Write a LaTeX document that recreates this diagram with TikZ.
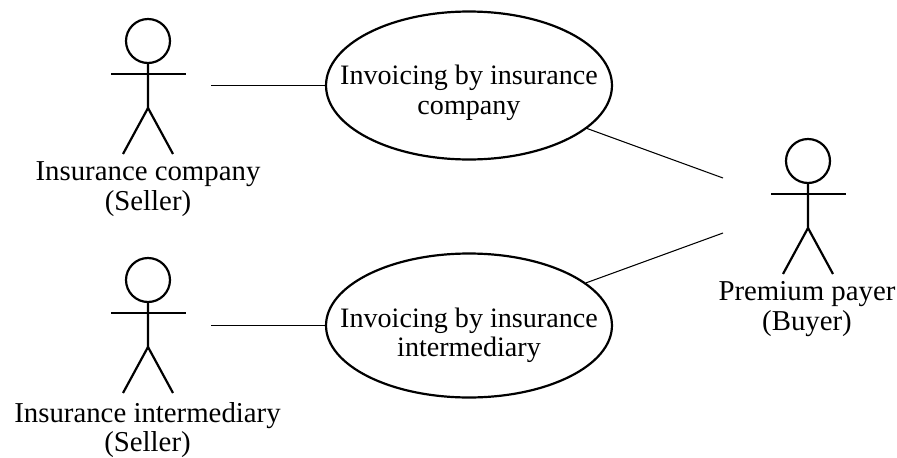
\documentclass[tikz,border=0pt]{standalone}
\usepackage{fontspec}
\setmainfont{Liberation Serif}
\usetikzlibrary{positioning,shapes.geometric}
\tikzset{
  usecase/.style={ellipse, draw=black, line width=1.25pt, minimum width=5.72cm, align=center, inner xsep=-0.6cm, inner ysep=0pt, font=\fontsize{16pt}{17pt}\selectfont},
  caption/.style={align=center, inner sep=0pt, font=\fontsize{16.4pt}{17pt}\selectfont},
  limb/.style={draw=black, line width=1.25pt},
  link/.style={draw=black, line width=0.6pt}
}
% one stick figure, head centre at #1
\newcommand{\stickman}[1]{
  \draw[limb] (#1) circle (0.44cm);
  \draw[limb] ([yshift=-0.44cm]#1) -- ++(0,-0.9cm) -- ++(-0.5cm,-0.92cm);
  \draw[limb] ([yshift=-1.34cm]#1) -- ++(0.5cm,-0.92cm);
  \draw[limb] ([xshift=-0.74cm,yshift=-0.66cm]#1) -- ++(1.5cm,0);
}
\begin{document}
\begin{tikzpicture}[x=0.02cm,y=-0.02cm]
  \useasboundingbox (0,0) rectangle (897,457);

  \stickman{148,41}
  \stickman{148,280}
  \stickman{808,161}

  \node[caption] (seller1) at (148,189.5) {Insurance company\\(Seller)};
  \node[caption] (seller2) at (147.5,430) {Insurance intermediary\\(Seller)};
  \node[caption] (buyer) at (807,309) {Premium payer\\(Buyer)};

  \node[usecase, minimum height=2.96cm] (case1) at (469,85.5) {\rule{0pt}{19pt}Invoicing by insurance\\company};
  \node[usecase, minimum height=2.88cm] (case2) at (469,325.5) {\rule{0pt}{22.3pt}Invoicing by insurance\\intermediary};

  \coordinate (end1) at (211,85.5);
  \coordinate (end2) at (211,325.5);
  \coordinate (end3) at (723,178);
  \coordinate (end4) at (723,233);

  \draw[link] (end1) -- (case1);
  \draw[link] (end2) -- (case2);
  \draw[link] (case1) -- (end3);
  \draw[link] (case2) -- (end4);
\end{tikzpicture}
\end{document}
